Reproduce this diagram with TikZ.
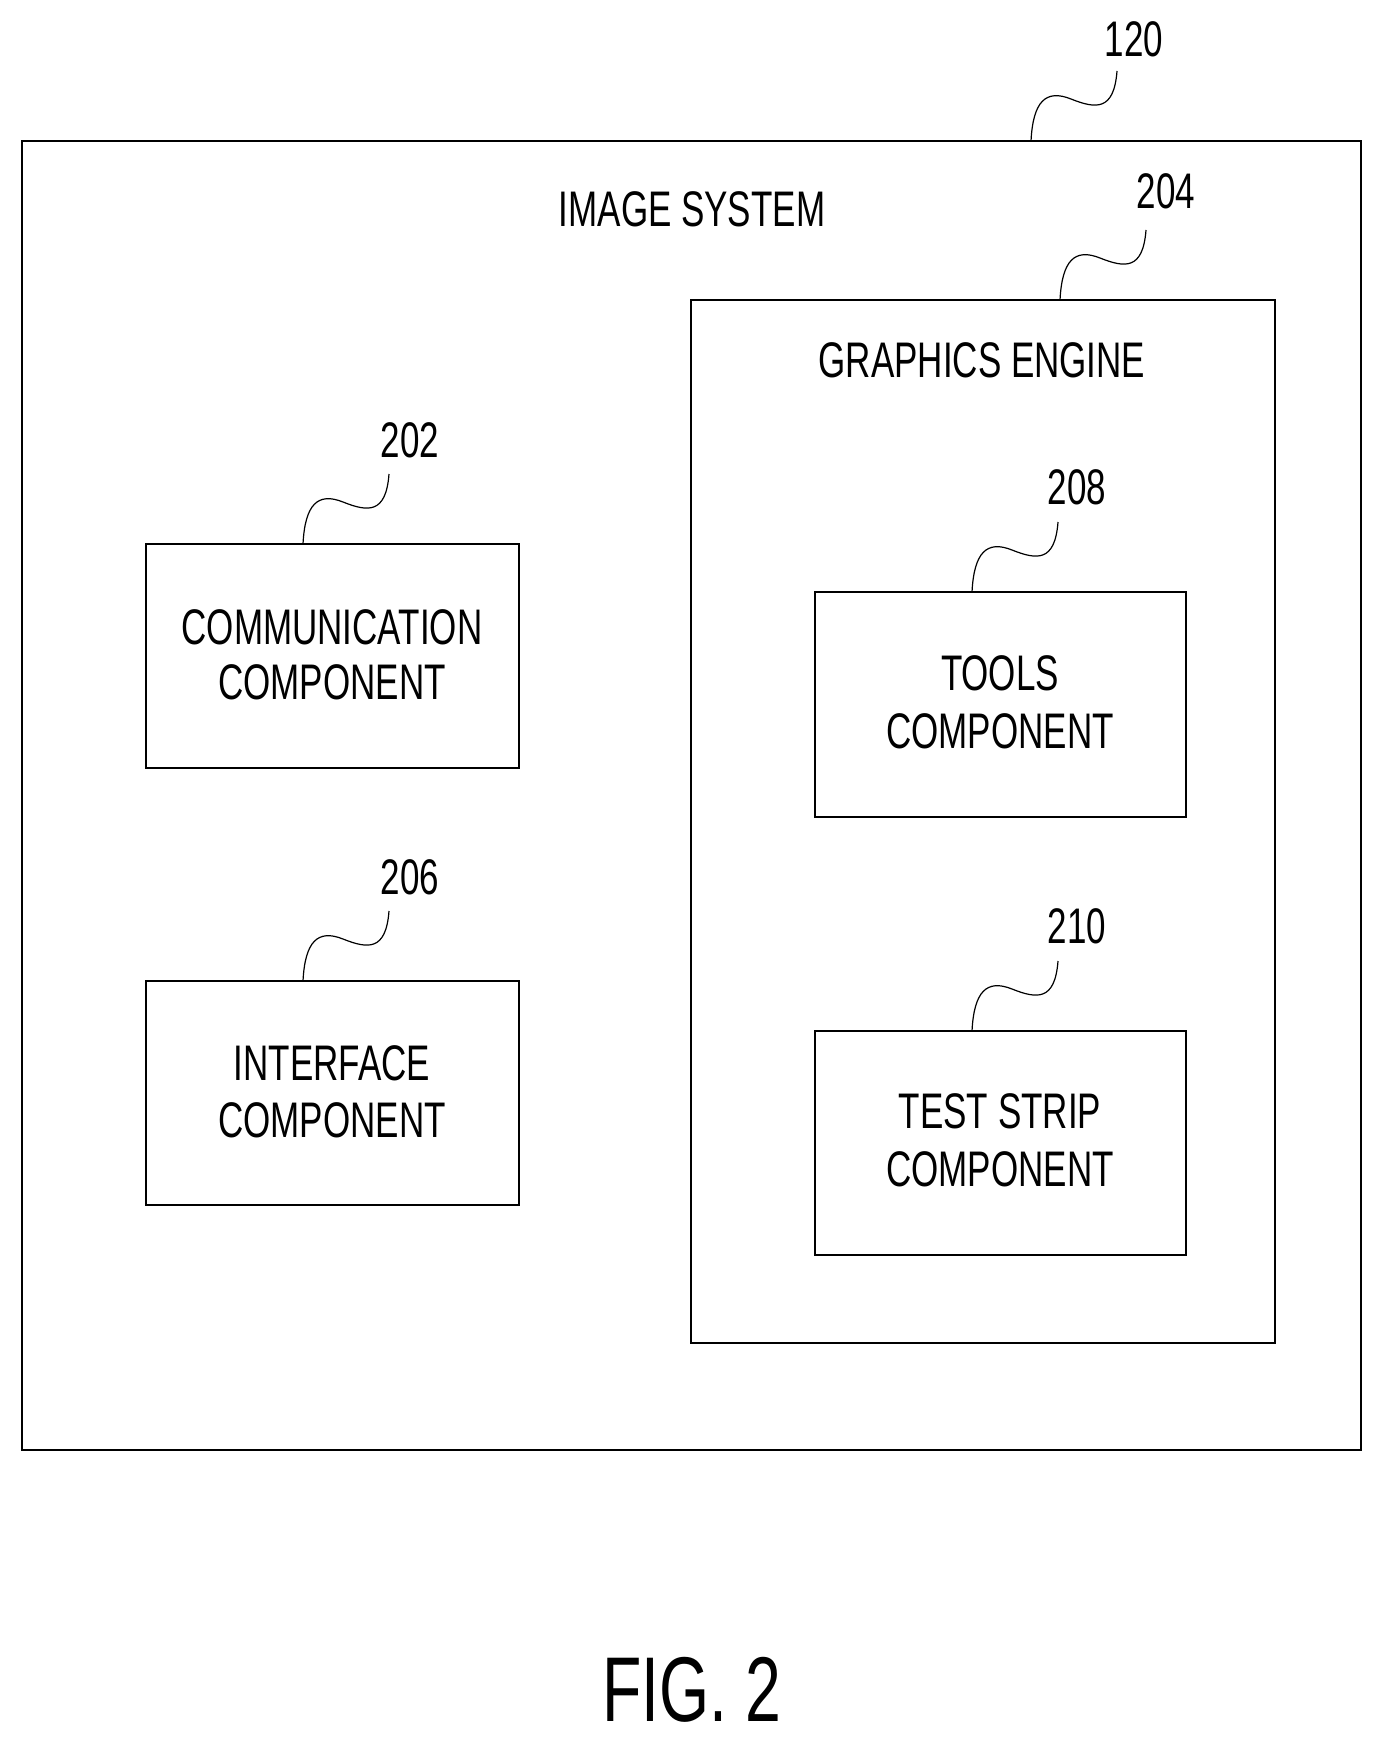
\documentclass[tikz,border=0pt]{standalone}
\usepackage{fontspec}
\setmainfont{Liberation Sans}
\newcommand\nar[1]{\scalebox{0.7}[1]{#1}}
\begin{document}
\begin{tikzpicture}[x=1pt,y=-1pt,
  box/.style={draw,line width=1.2pt},
  lbl/.style={font=\fontsize{50}{60}\selectfont,inner sep=0pt,align=center},
  sq/.style={line width=1.2pt}]
\useasboundingbox (0,0) rectangle (1380,1739);
\draw[box,line width=1.6pt] (22,141) rectangle (1361,1450);
\node[lbl] (t120) at (1134,39) {\nar{120}};
\node[lbl] (tis) at (692,209) {\nar{IMAGE SYSTEM}};
\draw[box] (691,300) rectangle (1275,1343);
\node[lbl] (t204) at (1166,191) {\nar{204}};
\node[lbl] (tge) at (982,360) {\nar{GRAPHICS ENGINE}};
\draw[box] (146,544) rectangle (519,768);
\node[lbl] at (332,627) {\nar{COMMUNICATION}};
\node[lbl] at (332,682) {\nar{COMPONENT}};
\node[lbl] (t202) at (410,440) {\nar{202}};
\draw[box] (146,981) rectangle (519,1205);
\node[lbl] at (332,1063) {\nar{INTERFACE}};
\node[lbl] at (332,1120) {\nar{COMPONENT}};
\node[lbl] (t206) at (410,877) {\nar{206}};
\draw[box] (815,592) rectangle (1186,817);
\node[lbl] at (1000,673) {\nar{TOOLS}};
\node[lbl] at (1000,731) {\nar{COMPONENT}};
\node[lbl] (t208) at (1077,487) {\nar{208}};
\draw[box] (815,1031) rectangle (1186,1255);
\node[lbl] at (1000,1111) {\nar{TEST STRIP}};
\node[lbl] at (1000,1169) {\nar{COMPONENT}};
\node[lbl] (t210) at (1077,926) {\nar{210}};
\node[font=\fontsize{92}{100}\selectfont,inner sep=0pt] (fig) at (692,1690) {\nar{FIG. 2}};
\foreach \a/\b in {1031/141,1060/300,303/544,303/981,972/592,972/1031}{
  \draw[sq] (\a,\b) .. controls (\a+2,\b-40) and (\a+15,\b-52) .. (\a+40,\b-42)
     .. controls (\a+65,\b-32) and (\a+83,\b-30) .. (\a+86,\b-70);
}
\end{tikzpicture}
\end{document}
